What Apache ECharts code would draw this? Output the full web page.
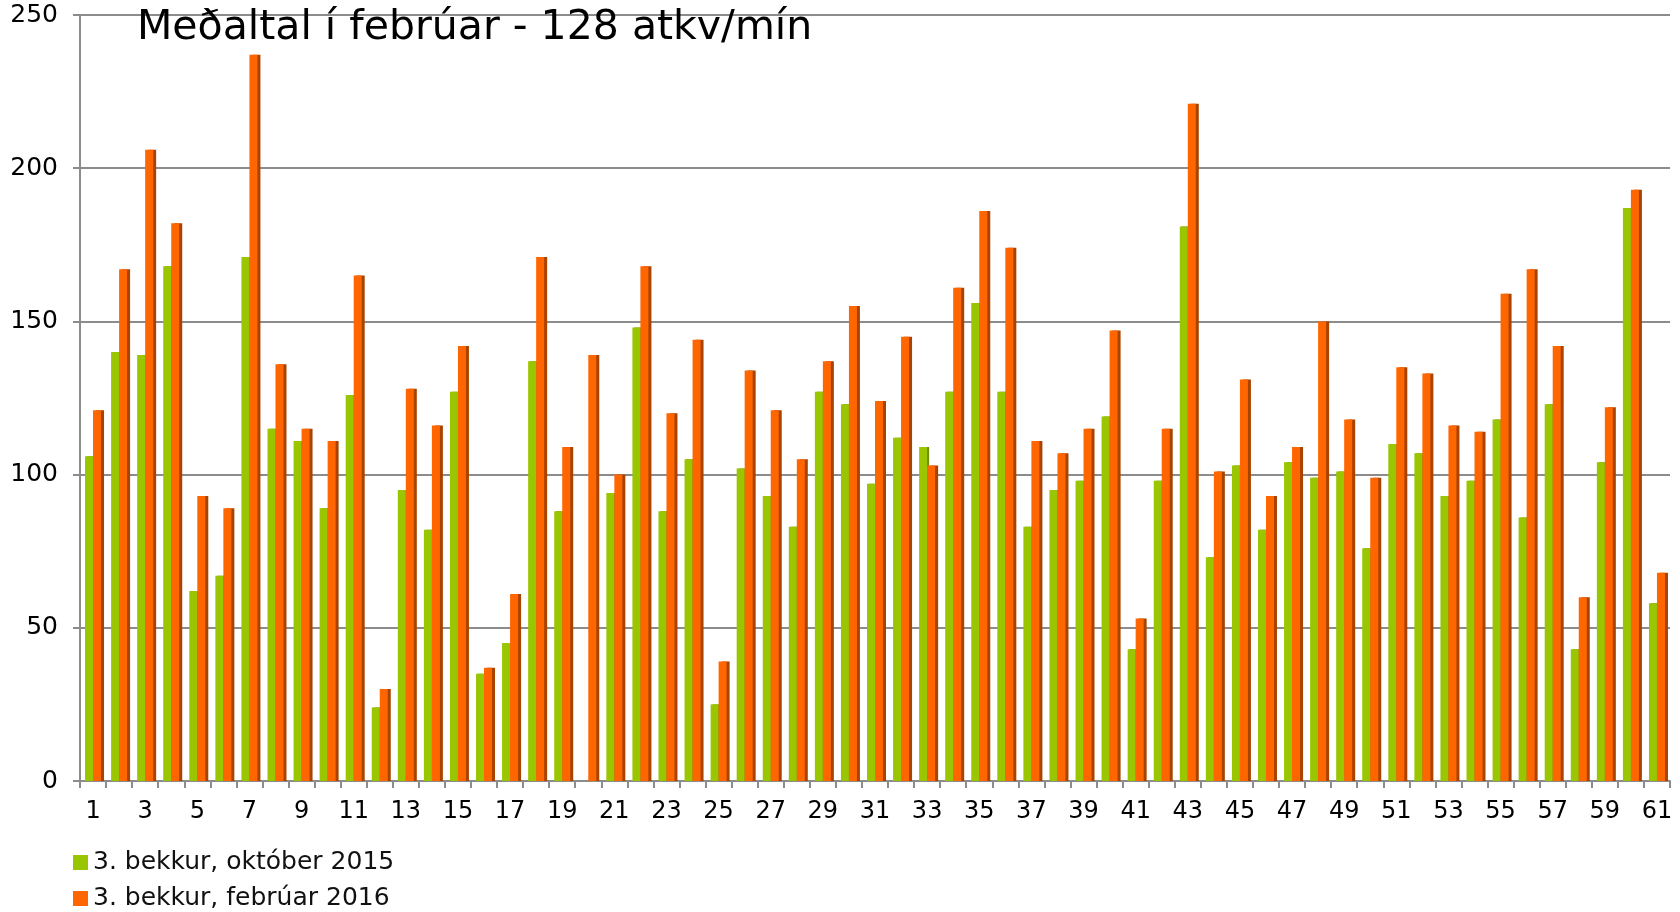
<!DOCTYPE html>
<html>
<head>
<meta charset="utf-8">
<script src="https://cdn.jsdelivr.net/npm/echarts@6/dist/echarts.min.js"></script>
<style>html,body{margin:0;padding:0;background:#fff}#c{width:1680px;height:912px}</style>
</head>
<body>
<div id="c"></div>
<script>
const titleText = 'Meðaltal í febrúar - 128 atkv/mín';
const seriesNames = ['3. bekkur, október 2015', '3. bekkur, febrúar 2016'];
const categories = [];
for (let i = 1; i <= 61; i++) categories.push(String(i));
const october2015 = [106,140,139,168,62,67,171,115,111,89,126,24,95,82,127,35,45,137,88,null,
  94,148,88,105,25,102,93,83,127,123,97,112,109,127,156,127,83,95,98,119,
  43,98,181,73,103,82,104,99,101,76,110,107,93,98,118,86,123,43,104,187,58];
const february2016 = [121,167,206,182,93,89,237,136,115,111,165,30,128,116,142,37,61,171,109,139,
  100,168,120,144,39,134,121,105,137,155,124,145,103,161,186,174,111,107,115,147,
  53,115,221,101,131,93,109,150,118,99,135,133,116,114,159,167,142,60,122,193,68];
const yTicks = {min: 0, max: 250, interval: 50};

const font = 'DejaVu Sans';
const legendText = {fontFamily: font, fontSize: 25, color: '#111'};
const chart = echarts.init(document.getElementById('c'), null, {renderer: 'canvas'});
chart.setOption({
  animation: false,
  backgroundColor: '#ffffff',
  textStyle: {fontFamily: font},
  title: {
    text: titleText, left: 132, top: 3,
    textStyle: {fontFamily: font, fontSize: 41, fontWeight: 'normal', color: '#000'}
  },
  legend: [
    {left: 68, top: 845, itemWidth: 15, itemHeight: 15, icon: 'rect', itemGap: 0,
     textStyle: legendText, data: [seriesNames[0]], selectedMode: false},
    {left: 68, top: 881, itemWidth: 15, itemHeight: 15, icon: 'rect', itemGap: 0,
     textStyle: legendText, data: [seriesNames[1]], selectedMode: false}
  ],
  grid: {left: 80, right: 10, top: 15, bottom: 131, containLabel: false},
  xAxis: {
    type: 'category', data: categories,
    axisLine: {lineStyle: {color: '#8c8c8c', width: 2}},
    axisTick: {show: true, interval: 0, length: 7, lineStyle: {color: '#8c8c8c', width: 2}},
    axisLabel: {interval: 1, fontSize: 24, color: '#000', margin: 19, fontFamily: font}
  },
  yAxis: {
    type: 'value', min: yTicks.min, max: yTicks.max, interval: yTicks.interval,
    axisLine: {show: true, lineStyle: {color: '#8c8c8c', width: 2}},
    axisTick: {show: true, length: 7, lineStyle: {color: '#8c8c8c', width: 2}},
    axisLabel: {fontSize: 25, color: '#000', margin: 22, fontFamily: font},
    splitLine: {lineStyle: {color: '#8c8c8c', width: 2}}
  },
  series: [
    {
      name: seriesNames[0], type: 'bar', data: october2015,
      barWidth: 8, barGap: '0%',
      itemStyle: {color: '#99c600', shadowColor: '#6f8f00', shadowOffsetX: 2, shadowBlur: 0}
    },
    {
      name: seriesNames[1], type: 'bar', data: february2016,
      barWidth: 8, barGap: '0%',
      itemStyle: {color: '#ff6600', shadowColor: '#a84300', shadowOffsetX: 3, shadowBlur: 0}
    }
  ]
});
</script>
</body>
</html>
